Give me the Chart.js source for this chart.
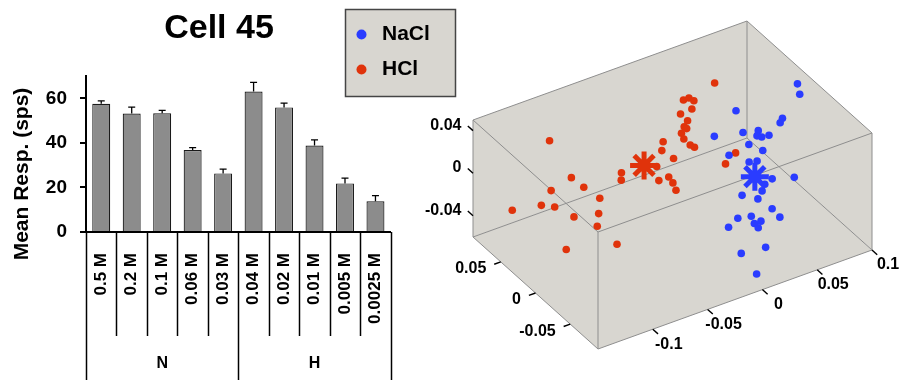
<!DOCTYPE html>
<html>
<head>
<meta charset="utf-8">
<title>Cell 45</title>
<script src="https://cdn.jsdelivr.net/npm/chart.js@4.4.1/dist/chart.umd.min.js"></script>
<style>
  html, body { margin: 0; padding: 0; background: #ffffff; }
  #wrap { position: relative; width: 900px; height: 380px; overflow: hidden; }
  #bars { position: absolute; left: 0; top: 0; }
  #cloud { position: absolute; left: 330px; top: 0; }
</style>
</head>
<body>
<div id="wrap">
  <canvas id="bars" width="400" height="380"></canvas>
  <canvas id="cloud" width="570" height="380"></canvas>
</div>
<script>
// ---- Mean response per stimulus concentration ----
const concentrations = ['0.5 M', '0.2 M', '0.1 M', '0.06 M', '0.03 M',
                        '0.04 M', '0.02 M', '0.01 M', '0.005 M', '0.0025 M'];
const stimulusGroups = ['N', 'H'];
const groupSizes = [5, 5];
const meanResponse = [57.5, 53.2, 53.3, 36.8, 26.3, 63.0, 55.9, 38.8, 21.8, 13.8];
const responseSem = [1.3, 2.8, 1.3, 1.1, 1.9, 4.1, 1.9, 2.5, 2.4, 2.5];
const responseTicks = [0, 20, 40, 60];

// ---- Trial responses in principal-component space ----
const tastantNames = ['NaCl', 'HCl'];
const pc1Range = [-0.15, 0.1];
const pc2Range = [-0.09, 0.09];
const pc3Range = [-0.06, 0.05];
const pc1Ticks = [-0.1, -0.05, 0, 0.05, 0.1];
const pc2Ticks = [-0.05, 0, 0.05];
const pc3Ticks = [-0.04, 0, 0.04];

const naclPC1 = [0.115, 0.112, 0.057, 0.088, 0.084, 0.029, 0.052, 0.064, 0.061, 0.064, 0.070,
                 0.051, 0.058, 0.031, 0.043, 0.049, 0.052, 0.069, 0.044, 0.039, 0.022, 0.032,
                 0.038, 0.040, 0.019, 0.008, -0.003, 0.018, 0.024, 0.019, 0.015, -0.006, -0.004];
const naclPC2 = [0.041, 0.033, 0.038, 0.020, 0.017, 0.025, 0.020, 0.017, 0.014, 0.012, 0.011,
                 0.010, 0.001, 0.007, -0.003, -0.005, -0.022, -0.027, -0.024, -0.028, -0.026, -0.033,
                 -0.044, -0.052, -0.044, -0.042, -0.046, -0.050, -0.050, -0.054, -0.071, -0.069, -0.088];
const naclPC3 = [0.014, 0.010, 0.012, 0.004, 0.003, 0.006, 0.004, 0.003, 0.001, 0.000, 0.000,
                 -0.001, -0.004, -0.002, -0.007, -0.007, -0.015, -0.017, -0.016, -0.018, -0.017, -0.020,
                 -0.025, -0.029, -0.025, -0.024, -0.026, -0.028, -0.028, -0.030, -0.037, -0.036, -0.045];

const hclPC1 = [-0.096, -0.097, -0.092, -0.118, -0.132, -0.156, -0.123, -0.085, -0.093, -0.113,
                -0.100, -0.134, -0.094, -0.057, -0.061, 0.054, 0.023, 0.028, 0.030, 0.025,
                0.014, 0.016, 0.011, 0.012, 0.006, 0.005, 0.007, 0.009, -0.012, -0.017,
                -0.012, -0.028, -0.033, -0.024, -0.024, -0.025, 0.024, 0.037];
const hclPC2 = [0.065, 0.032, 0.022, 0.028, 0.020, 0.024, 0.015, 0.010, -0.001, 0.003,
                -0.010, -0.019, -0.029, 0.023, 0.017, 0.064, 0.060, 0.060, 0.056, 0.051,
                0.050, 0.043, 0.040, 0.038, 0.036, 0.031, 0.025, 0.022, 0.034, 0.028,
                0.019, 0.018, 0.007, 0.007, 0.001, -0.005, 0.001, 0.007];
const hclPC3 = [0.025, 0.010, 0.005, 0.008, 0.004, 0.006, 0.002, -0.001, -0.006, -0.004,
                -0.010, -0.014, -0.018, 0.005, 0.003, 0.024, 0.022, 0.022, 0.021, 0.018,
                0.018, 0.015, 0.013, 0.012, 0.011, 0.009, 0.006, 0.005, 0.011, 0.008,
                0.004, 0.003, -0.002, -0.002, -0.004, -0.007, -0.004, -0.002];

const naclMean = [0.040, -0.016, -0.012];
const hclMean = [-0.037, 0.022, 0.005];

// ---- Styling ----
const FONT = '"Liberation Sans", Arial, Helvetica, sans-serif';
const BLUE = '#2a3cff';
const RED = '#e0330b';
const PANE = '#d8d6d0';
const EDGE = '#8e8e8e';

// ================= Bar chart =================
const barDecor = {
  id: 'barDecor',
  afterDatasetsDraw(chart) {
    const { ctx } = chart;
    const y = chart.scales.y;
    const meta = chart.getDatasetMeta(0);
    ctx.save();
    ctx.strokeStyle = '#000';
    ctx.lineWidth = 1.3;
    meta.data.forEach((bar, i) => {
      const top = y.getPixelForValue(meanResponse[i] + responseSem[i]);
      ctx.beginPath();
      ctx.moveTo(bar.x, bar.y);
      ctx.lineTo(bar.x, top);
      ctx.moveTo(bar.x - 3.5, top);
      ctx.lineTo(bar.x + 3.5, top);
      ctx.stroke();
    });
    ctx.restore();
  },
  afterDraw(chart) {
    const { ctx, chartArea } = chart;
    const x = chart.scales.x;
    const half = (x.getPixelForValue(1) - x.getPixelForValue(0)) / 2;
    const base = chartArea.bottom;
    const edgeOf = k => (k < concentrations.length ? x.getPixelForValue(k) - half
                                                   : x.getPixelForValue(k - 1) + half);
    const groupEdges = [0];
    groupSizes.forEach(n => groupEdges.push(groupEdges[groupEdges.length - 1] + n));

    ctx.save();
    ctx.strokeStyle = '#000';
    ctx.lineWidth = 1.5;
    for (let k = 0; k <= concentrations.length; k++) {
      const xp = Math.round(edgeOf(k)) + 0.5;
      const full = groupEdges.includes(k);
      ctx.beginPath();
      ctx.moveTo(xp, base);
      ctx.lineTo(xp, full ? chart.height : base + 104);
      ctx.stroke();
    }

    ctx.fillStyle = '#000';
    ctx.textAlign = 'center';
    ctx.textBaseline = 'middle';
    ctx.font = 'bold 16px ' + FONT;
    stimulusGroups.forEach((g, gi) => {
      const cx = (edgeOf(groupEdges[gi]) + edgeOf(groupEdges[gi + 1])) / 2;
      ctx.fillText(g, cx, 364);
    });

    ctx.font = 'bold 34px ' + FONT;
    ctx.fillText('Cell 45', 219, 29);

    ctx.translate(27.5, 174);
    ctx.rotate(-Math.PI / 2);
    ctx.textBaseline = 'alphabetic';
    ctx.font = 'bold 21px ' + FONT;
    ctx.fillText('Mean Resp. (sps)', 0, 0);
    ctx.restore();
  }
};

new Chart(document.getElementById('bars'), {
  type: 'bar',
  data: {
    labels: concentrations,
    datasets: [{
      data: meanResponse,
      backgroundColor: '#8c8c8c',
      borderColor: '#1a1a1a',
      borderWidth: 1.2,
      barPercentage: 0.59,
      categoryPercentage: 1.0
    }]
  },
  options: {
    responsive: false,
    animation: false,
    events: [],
    layout: { autoPadding: false, padding: { top: 76, right: 9.3, bottom: 0, left: 0 } },
    scales: {
      x: {
        offset: true,
        grid: { display: false },
        border: { display: true, color: '#000', width: 2 },
        ticks: {
          color: '#000',
          font: { family: FONT, size: 17, weight: 'bold' },
          minRotation: 90,
          maxRotation: 90,
          padding: 13,
          autoSkip: false
        },
        afterFit(scale) {
          scale.height = 148;
          scale.paddingLeft = 0;
          scale.paddingRight = 0;
        }
      },
      y: {
        min: 0,
        max: 70,
        afterBuildTicks(scale) { scale.ticks = responseTicks.map(v => ({ value: v })); },
        grid: { drawOnChartArea: false, drawTicks: true, tickLength: 6, color: '#000', lineWidth: 2 },
        border: { display: true, color: '#000', width: 2 },
        ticks: {
          color: '#000',
          font: { family: FONT, size: 19, weight: 'bold' },
          padding: 13
        },
        afterFit(scale) {
          scale.width = 86;
          scale.paddingTop = 0;
          scale.paddingBottom = 0;
        }
      }
    },
    plugins: { legend: { display: false }, tooltip: { enabled: false }, title: { display: false } }
  },
  plugins: [barDecor]
});

// ================= PC scatter in a 3-D box =================
// Orthographic view of the PC box: screen position of the (min,min,min) corner
// and the screen vectors spanned by each full axis range.
const VIEW = { origin: [598, 349], e1: [274, -99], e2: [-125, -112], e3: [0, -117] };

function project(a, b, c) {
  const u = (a - pc1Range[0]) / (pc1Range[1] - pc1Range[0]);
  const v = (b - pc2Range[0]) / (pc2Range[1] - pc2Range[0]);
  const w = (c - pc3Range[0]) / (pc3Range[1] - pc3Range[0]);
  return {
    x: VIEW.origin[0] + u * VIEW.e1[0] + v * VIEW.e2[0] + w * VIEW.e3[0],
    y: VIEW.origin[1] + u * VIEW.e1[1] + v * VIEW.e2[1] + w * VIEW.e3[1]
  };
}

function unit(vec, s) {
  const n = Math.hypot(vec[0], vec[1]);
  return [vec[0] / n * s, vec[1] / n * s];
}

const cubeFrame = {
  id: 'cubeFrame',
  beforeDatasetsDraw(chart) {
    const { ctx } = chart;
    const sx = chart.scales.x, sy = chart.scales.y;
    const px = p => [sx.getPixelForValue(p.x), sy.getPixelForValue(p.y)];
    const corner = (i, j, k) => px(project(pc1Range[i], pc2Range[j], pc3Range[k]));

    const panes = [
      [[0, 0, 0], [1, 0, 0], [1, 1, 0], [0, 1, 0]],
      [[0, 1, 0], [1, 1, 0], [1, 1, 1], [0, 1, 1]],
      [[1, 0, 0], [1, 1, 0], [1, 1, 1], [1, 0, 1]]
    ];
    ctx.save();
    ctx.fillStyle = PANE;
    panes.forEach(p => {
      ctx.beginPath();
      p.forEach((c, n) => {
        const q = corner(...c);
        n ? ctx.lineTo(q[0], q[1]) : ctx.moveTo(q[0], q[1]);
      });
      ctx.closePath();
      ctx.fill();
    });

    // all twelve box edges
    ctx.strokeStyle = EDGE;
    ctx.lineWidth = 1;
    for (let i = 0; i < 2; i++) for (let j = 0; j < 2; j++) for (let k = 0; k < 2; k++) {
      [[1, 0, 0], [0, 1, 0], [0, 0, 1]].forEach(d => {
        const i2 = i + d[0], j2 = j + d[1], k2 = k + d[2];
        if (i2 > 1 || j2 > 1 || k2 > 1) return;
        const a = corner(i, j, k), b = corner(i2, j2, k2);
        ctx.beginPath();
        ctx.moveTo(a[0], a[1]);
        ctx.lineTo(b[0], b[1]);
        ctx.stroke();
      });
    }

    // ticks and tick labels
    ctx.strokeStyle = '#000';
    ctx.lineWidth = 1.4;
    ctx.fillStyle = '#000';
    ctx.font = 'bold 16px ' + FONT;
    ctx.textBaseline = 'middle';
    const drawTick = (p, dir) => {
      ctx.beginPath();
      ctx.moveTo(p[0], p[1]);
      ctx.lineTo(p[0] + dir[0], p[1] + dir[1]);
      ctx.stroke();
    };

    const zDir = unit(VIEW.e2, 7);
    ctx.textAlign = 'right';
    pc3Ticks.forEach(t => {
      const p = px(project(pc1Range[0], pc2Range[1], t));
      drawTick(p, zDir);
      ctx.fillText(String(t), p[0] - 11.5, p[1] - 5.5);
    });

    const yDir = unit([-VIEW.e1[0], -VIEW.e1[1]], 7);
    pc2Ticks.forEach(t => {
      const p = px(project(pc1Range[0], t, pc3Range[0]));
      drawTick(p, yDir);
      ctx.fillText(String(t), p[0] - 14.5, p[1] + 7);
    });

    const xDir = unit([-VIEW.e2[0], -VIEW.e2[1]], 7);
    ctx.textAlign = 'center';
    pc1Ticks.forEach(t => {
      const p = px(project(t, pc2Range[0], pc3Range[0]));
      drawTick(p, xDir);
      ctx.fillText(String(t), p[0] + 16, p[1] + 15);
    });
    ctx.restore();
  },
  afterDatasetsDraw(chart) {
    // legend box
    const { ctx } = chart;
    const sx = chart.scales.x, sy = chart.scales.y;
    const L = sx.getPixelForValue(345), T = sy.getPixelForValue(9);
    const R = sx.getPixelForValue(456), B = sy.getPixelForValue(97);
    ctx.save();
    ctx.fillStyle = PANE;
    ctx.fillRect(L, T, R - L, B - T);
    ctx.strokeStyle = '#454545';
    ctx.lineWidth = 1.5;
    ctx.strokeRect(L + 0.5, T + 0.5, R - L - 1, B - T - 1);
    const colors = [BLUE, RED];
    ctx.font = 'bold 21px ' + FONT;
    ctx.textAlign = 'left';
    ctx.textBaseline = 'middle';
    tastantNames.forEach((name, n) => {
      const cy = T + 25 + n * 35;
      ctx.fillStyle = colors[n];
      ctx.beginPath();
      ctx.arc(L + 16.5, cy + 0.5, 5, 0, Math.PI * 2);
      ctx.fill();
      ctx.fillStyle = '#000';
      ctx.fillText(name, L + 37, cy);
    });
    ctx.restore();
  }
};

const cloudPoints = (a, b, c) => a.map((v, i) => project(v, b[i], c[i]));

new Chart(document.getElementById('cloud'), {
  type: 'scatter',
  data: {
    datasets: [
      { label: 'NaCl mean', data: [project(...naclMean)], pointStyle: 'star', pointRadius: 14,
        pointBorderColor: BLUE, pointBackgroundColor: BLUE, pointBorderWidth: 5 },
      { label: 'HCl mean', data: [project(...hclMean)], pointStyle: 'star', pointRadius: 14,
        pointBorderColor: RED, pointBackgroundColor: RED, pointBorderWidth: 5 },
      { label: 'NaCl', data: cloudPoints(naclPC1, naclPC2, naclPC3), pointRadius: 3.8,
        pointBackgroundColor: BLUE, pointBorderWidth: 0 },
      { label: 'HCl', data: cloudPoints(hclPC1, hclPC2, hclPC3), pointRadius: 3.8,
        pointBackgroundColor: RED, pointBorderWidth: 0 }
    ]
  },
  options: {
    responsive: false,
    animation: false,
    events: [],
    layout: { autoPadding: false, padding: 0 },
    scales: {
      x: { type: 'linear', min: 330, max: 900, display: false },
      y: { type: 'linear', min: 0, max: 380, reverse: true, display: false }
    },
    plugins: { legend: { display: false }, tooltip: { enabled: false } }
  },
  plugins: [cubeFrame]
});
</script>
</body>
</html>
